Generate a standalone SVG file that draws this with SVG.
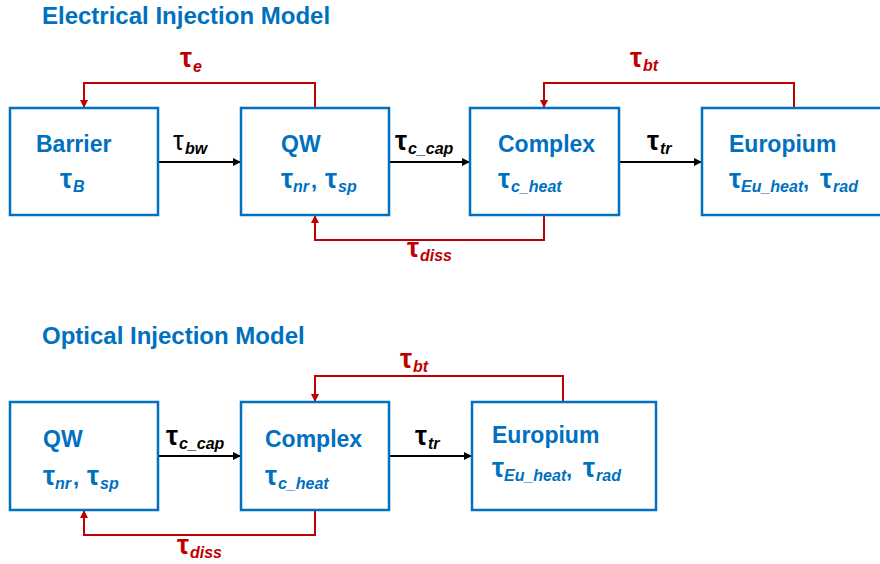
<svg xmlns="http://www.w3.org/2000/svg" width="880" height="564" viewBox="0 0 880 564">
<defs>
<style>
.box{fill:#fff;stroke:#0070C0;stroke-width:2.5}
.t{font-family:"Liberation Sans",Arial,sans-serif;font-weight:bold}
.title{font-size:24px;fill:#0070C0}
.name{font-size:23px;fill:#0070C0}
.blue{fill:#0070C0}
.red{fill:#C00000}
.blk{fill:#000}
.tau{font-size:27px;font-weight:bold}
.cm{font-size:22px;font-weight:bold}
.sub{font-size:16px;font-style:italic;font-weight:bold}
.ln{fill:none;stroke-width:2}
.lb{stroke:#000}
.lr{stroke:#C00000}
</style>
<marker id="ab" markerUnits="userSpaceOnUse" markerWidth="8" markerHeight="8" refX="8" refY="4" orient="auto"><path d="M0,0 L8,4 L0,8 z" fill="#000"/></marker>
<marker id="ar" markerUnits="userSpaceOnUse" markerWidth="8" markerHeight="8" refX="8" refY="4" orient="auto"><path d="M0,0 L8,4 L0,8 z" fill="#C00000"/></marker>
</defs>

<text class="t title" x="42" y="24">Electrical Injection Model</text>
<text class="t title" x="42" y="344">Optical Injection Model</text>

<g id="connectors">
<line class="ln lb" x1="158" y1="162" x2="241" y2="162" marker-end="url(#ab)"/>
<line class="ln lb" x1="389" y1="162" x2="470" y2="162" marker-end="url(#ab)"/>
<line class="ln lb" x1="619" y1="162" x2="702" y2="162" marker-end="url(#ab)"/>
<path class="ln lr" d="M315,108 V83 H84 V108" marker-end="url(#ar)"/>
<path class="ln lr" d="M794,108 V83 H544 V108" marker-end="url(#ar)"/>
<path class="ln lr" d="M544,215 V240 H315 V215" marker-end="url(#ar)"/>
<line class="ln lb" x1="158" y1="456" x2="241" y2="456" marker-end="url(#ab)"/>
<line class="ln lb" x1="389" y1="456" x2="472" y2="456" marker-end="url(#ab)"/>
<path class="ln lr" d="M563,402 V376 H315 V402" marker-end="url(#ar)"/>
<path class="ln lr" d="M315,510 V535 H84 V510" marker-end="url(#ar)"/>

<text class="t blk"><tspan class="tau" style="font-weight:normal" x="173" y="150">τ</tspan><tspan class="sub" x="185" y="154">bw</tspan></text>
<text class="t blk"><tspan class="tau" x="395" y="150">τ</tspan><tspan class="sub" x="408" y="154">c_cap</tspan></text>
<text class="t blk"><tspan class="tau" x="647" y="150">τ</tspan><tspan class="sub" x="660" y="154">tr</tspan></text>
<text class="t red"><tspan class="tau" x="180" y="67">τ</tspan><tspan class="sub" x="193" y="72">e</tspan></text>
<text class="t red"><tspan class="tau" x="630" y="67">τ</tspan><tspan class="sub" x="643" y="71">bt</tspan></text>
<text class="t red"><tspan class="tau" x="407" y="257">τ</tspan><tspan class="sub" x="420" y="261">diss</tspan></text>
<text class="t blk"><tspan class="tau" x="166" y="445">τ</tspan><tspan class="sub" x="179" y="449">c_cap</tspan></text>
<text class="t blk"><tspan class="tau" x="415" y="445">τ</tspan><tspan class="sub" x="428" y="449">tr</tspan></text>
<text class="t red"><tspan class="tau" x="400" y="368">τ</tspan><tspan class="sub" x="413" y="372">bt</tspan></text>
<text class="t red"><tspan class="tau" x="177" y="554">τ</tspan><tspan class="sub" x="190" y="558">diss</tspan></text>
</g>

<g id="barrier">
<rect class="box" x="10" y="108" width="148" height="107"/>
<text class="t name" x="36" y="152">Barrier</text>
<text class="t blue"><tspan class="tau" x="60" y="188">τ</tspan><tspan class="sub" x="73" y="192">B</tspan></text>
</g>
<g id="qw1">
<rect class="box" x="241" y="108" width="148" height="107"/>
<text class="t name" x="281" y="152">QW</text>
<text class="t blue"><tspan class="tau" x="281" y="188">τ</tspan><tspan class="sub" x="293" y="192">nr</tspan><tspan class="cm" x="311" y="188">,</tspan><tspan class="tau" x="325" y="188">τ</tspan><tspan class="sub" x="338" y="192">sp</tspan></text>
</g>
<g id="complex1">
<rect class="box" x="470" y="108" width="149" height="107"/>
<text class="t name" x="498" y="152">Complex</text>
<text class="t blue"><tspan class="tau" x="498" y="188">τ</tspan><tspan class="sub" x="511" y="192">c_heat</tspan></text>
</g>
<g id="europium1">
<rect class="box" x="702" y="108" width="200" height="107"/>
<text class="t name" x="729" y="152">Europium</text>
<text class="t blue"><tspan class="tau" x="729" y="188">τ</tspan><tspan class="sub" x="741" y="192">Eu_heat</tspan><tspan class="cm" x="803" y="188">,</tspan><tspan class="tau" x="820" y="188">τ</tspan><tspan class="sub" x="833" y="192">rad</tspan></text>
</g>

<g id="qw2">
<rect class="box" x="10" y="402" width="148" height="108"/>
<text class="t name" x="43" y="447">QW</text>
<text class="t blue"><tspan class="tau" x="43" y="485">τ</tspan><tspan class="sub" x="55" y="489">nr</tspan><tspan class="cm" x="73" y="485">,</tspan><tspan class="tau" x="87" y="485">τ</tspan><tspan class="sub" x="100" y="489">sp</tspan></text>
</g>
<g id="complex2">
<rect class="box" x="241" y="402" width="148" height="108"/>
<text class="t name" x="265" y="447">Complex</text>
<text class="t blue"><tspan class="tau" x="265" y="485">τ</tspan><tspan class="sub" x="278" y="489">c_heat</tspan></text>
</g>
<g id="europium2">
<rect class="box" x="472" y="402" width="184" height="108"/>
<text class="t name" x="492" y="443">Europium</text>
<text class="t blue"><tspan class="tau" x="492" y="477">τ</tspan><tspan class="sub" x="504" y="481">Eu_heat</tspan><tspan class="cm" x="566" y="477">,</tspan><tspan class="tau" x="583" y="477">τ</tspan><tspan class="sub" x="596" y="481">rad</tspan></text>
</g>
</svg>
